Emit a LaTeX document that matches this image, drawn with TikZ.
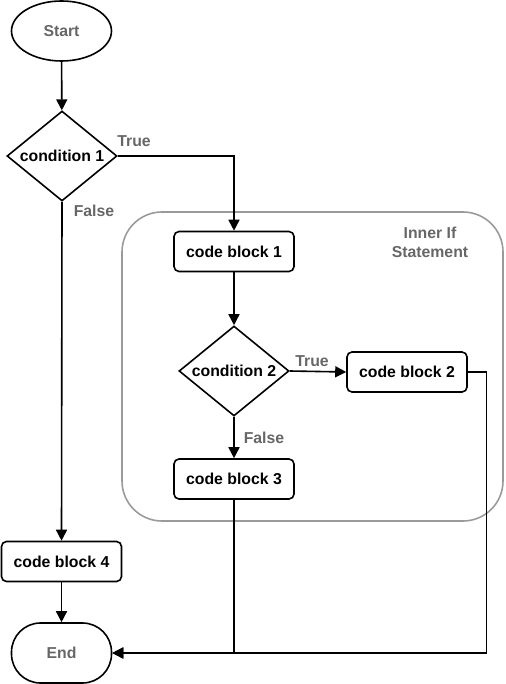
\documentclass[tikz,border=0pt]{standalone}
\usepackage{fontspec}
\setmainfont{Liberation Sans}
\usepackage{tikz}
\usetikzlibrary{arrows.meta,shapes,positioning,calc}
\definecolor{labelgray}{HTML}{666666}
\definecolor{boxgray}{HTML}{9A9A9A}

\begin{document}
\begin{tikzpicture}[x=1pt, y=-1pt,
		font=\fontsize{15.8}{19}\selectfont\bfseries,
		every path/.style={line width=1.6pt},
		term/.style={ellipse, draw, text=labelgray, minimum width=100pt, minimum height=60pt, inner sep=0pt},
		stop/.style={rectangle, rounded corners=29pt, draw, text=labelgray, minimum width=100pt, minimum height=60pt, inner sep=0pt},
		block/.style={rectangle, rounded corners=5pt, draw, minimum width=120pt, minimum height=40pt, inner sep=0pt},
		cond/.style={diamond, aspect=1.22, draw, minimum width=110pt, minimum height=90pt, inner sep=0pt},
		branch/.style={text=labelgray, inner sep=0pt},
		flow/.style={-{Triangle[length=11pt,width=11pt]}},
		group/.style={draw=boxgray, rounded corners=40pt}]
		\useasboundingbox (0,0) rectangle (505,684);

		% inner if statement
		\draw[group] (122,212) rectangle (503,521);
		\node[branch, align=center] (title) at (430,242) {Inner If\\Statement};

		\node[term] (start) at (61.5,31) {Start};
		\node[cond] (cond1) at (62,156) {condition 1};
		\node[block] (block1) at (234,251.5) {code block 1};
		\node[cond] (cond2) at (234,371) {condition 2};
		\node[block] (block2) at (407,372) {code block 2};
		\node[block] (block3) at (234,479) {code block 3};
		\node[block] (block4) at (61.5,561.5) {code block 4};
		\node[stop] (end) at (61.5,653) {End};
		\coordinate (turn) at (486.5,653);

		\draw[flow] (start) -- (cond1);
		\draw[flow] (cond1.east) -| (block1.north);
		\draw[flow] (cond1.south) -- (block4.north);
		\draw[flow] (block1) -- (cond2);
		\draw[flow] (cond2.east) -- (block2.west);
		\draw[flow] (cond2.south) -- (block3.north);
		\draw[flow] (block4) -- (end);
		\draw[flow] (block3.south) |- (end.east);
		\draw[flow] (block2.east) -| (turn) -- (end.east);

		\node[branch] (true1) at (134,141) {True};
		\node[branch] (false1) at (94,211) {False};
		\node[branch] (true2) at (312,361) {True};
		\node[branch] (false2) at (264,438) {False};
	\end{tikzpicture}
\end{document}
